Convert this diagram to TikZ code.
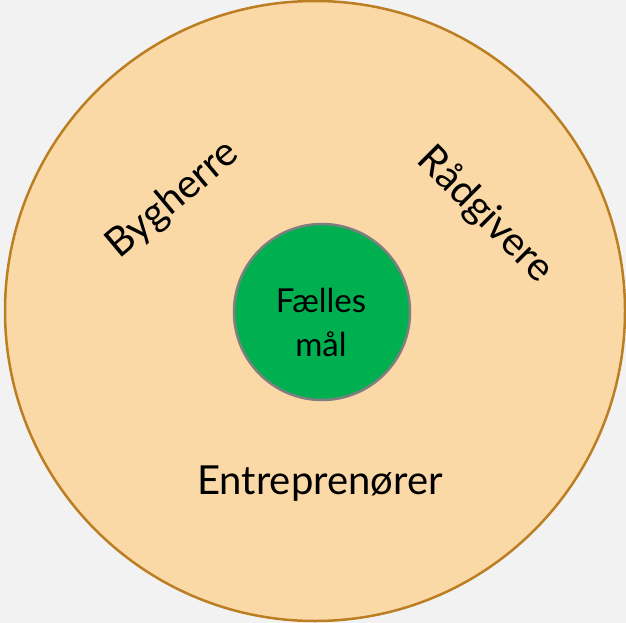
\documentclass[tikz,border=0pt]{standalone}
\usepackage{fontspec}
\setmainfont{Lato}
\definecolor{bg}{HTML}{F2F2F2}
\definecolor{outerfill}{HTML}{FBD9A6}
\definecolor{outerline}{HTML}{BC7E22}
\definecolor{innerfill}{HTML}{00B050}
\definecolor{innerline}{HTML}{7F7F7F}
\tikzset{
  lbl/.style={font=\fontsize{40}{44}\selectfont, text=black, inner sep=0pt},
  midlbl/.style={font=\fontsize{33}{44}\selectfont, text=black, align=center, inner sep=0pt},
}
\begin{document}
\begin{tikzpicture}[x=1pt,y=-1pt]
\fill[bg] (0,0) rectangle (626,623);
\useasboundingbox (0,0) rectangle (626,623);
\node[circle, draw=outerline, line width=2.5pt, fill=outerfill, minimum size=620pt, inner sep=0pt] (outer) at (315,311) {};
\node[circle, draw=innerline, line width=2.5pt, fill=innerfill, minimum size=176pt, inner sep=0pt] (inner) at (322,312) {};
\node[midlbl] (goal) at (321,322) {Fælles\\mål};
\node[lbl, rotate=40] (byg) at (173,200) {Bygherre};
\node[lbl, rotate=-45] (rad) at (485,215) {Rådgivere};
\node[lbl] (ent) at (320,484) {Entreprenører};
\end{tikzpicture}
\end{document}
